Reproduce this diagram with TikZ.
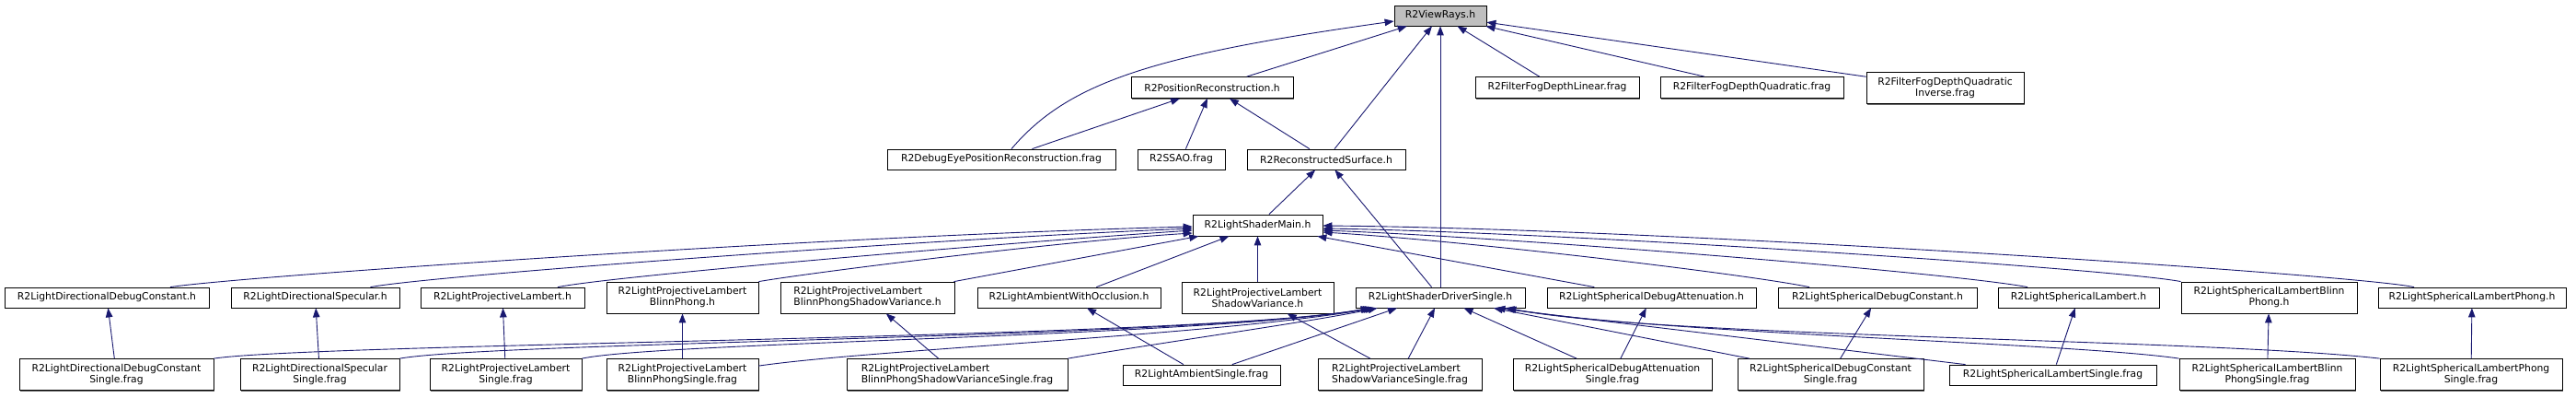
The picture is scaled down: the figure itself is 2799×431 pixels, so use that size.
\documentclass[tikz,border=0pt]{standalone}
\usepackage{fontspec}
\setmainfont{DejaVu Sans}
\usepackage{xcolor}
\usepackage{tikz}
\usetikzlibrary{arrows.meta,shadows}
\definecolor{edgeblue}{HTML}{191970}

\begin{document}
\begin{tikzpicture}[
  x=1pt,y=-1pt,
  filebox/.style={draw=black,line width=0.8pt,fill=white,inner sep=0pt,
                  minimum height=22pt,align=center,
                  font=\fontsize{10.8pt}{12pt}\selectfont,
                  drop shadow={shadow xshift=1.2pt,shadow yshift=-1.2pt,fill=black!60,opacity=1}},
  twoline/.style={filebox,minimum height=34pt},
  focus/.style={filebox,fill=black!25},
  incl/.style={-{Triangle[length=10pt,width=7.5pt]},draw=edgeblue,line width=0.9pt},
]
  \useasboundingbox (0,0) rectangle (2799,431);

  \node[focus,minimum width=100pt]                       (viewrays)   at (1565,17)    {R2ViewRays.h};
  \node[filebox,minimum width=176pt,minimum height=23pt] (posrec)     at (1317,95)    {R2PositionReconstruction.h};
  \node[filebox,minimum width=178pt,minimum height=23pt] (foglin)     at (1692,95)    {R2FilterFogDepthLinear.frag};
  \node[filebox,minimum width=199pt,minimum height=23pt] (fogquad)    at (1903.5,95)  {R2FilterFogDepthQuadratic.frag};
  \node[twoline,minimum width=171pt]                     (foginv)     at (2113.5,95.5) {R2FilterFogDepthQuadratic\\Inverse.frag};
  \node[filebox,minimum width=248pt]                     (debugeye)   at (1088,173)   {R2DebugEyePositionReconstruction.frag};
  \node[filebox,minimum width=95pt]                      (ssao)       at (1283.5,173) {R2SSAO.frag};
  \node[filebox,minimum width=172pt]                     (recsurf)    at (1441,173)   {R2ReconstructedSurface.h};
  \node[filebox,minimum width=141pt,minimum height=23pt] (shadermain) at (1366.5,244.5) {R2LightShaderMain.h};

  \node[filebox,minimum width=222pt] (dirdbg)      at (116,323)    {R2LightDirectionalDebugConstant.h};
  \node[filebox,minimum width=183pt] (dirspec)     at (342.5,323)  {R2LightDirectionalSpecular.h};
  \node[filebox,minimum width=178pt] (projlam)     at (546,323)    {R2LightProjectiveLambert.h};
  \node[twoline,minimum width=165pt] (projbp)      at (741.5,323)  {R2LightProjectiveLambert\\BlinnPhong.h};
  \node[twoline,minimum width=189pt,align=left] (projbpsv) at (942.5,323) {R2LightProjectiveLambert\\BlinnPhongShadowVariance.h};
  \node[filebox,minimum width=199pt] (ambocc)      at (1161.5,323) {R2LightAmbientWithOcclusion.h};
  \node[twoline,minimum width=165pt] (projsv)      at (1366.5,323) {R2LightProjectiveLambert\\ShadowVariance.h};
  \node[filebox,minimum width=184pt] (driver)      at (1565,323)   {R2LightShaderDriverSingle.h};
  \node[filebox,minimum width=227pt] (sphdbgatt)   at (1794.5,323) {R2LightSphericalDebugAttenuation.h};
  \node[filebox,minimum width=216pt] (sphdbgconst) at (2040,323)   {R2LightSphericalDebugConstant.h};
  \node[filebox,minimum width=175pt] (sphlam)      at (2258.5,323) {R2LightSphericalLambert.h};
  \node[twoline,minimum width=191pt] (sphbp)       at (2465.5,323) {R2LightSphericalLambertBlinn\\Phong.h};
  \node[filebox,minimum width=204pt] (sphphong)    at (2686,323)   {R2LightSphericalLambertPhong.h};

  \node[twoline,minimum width=211pt] (dirdbgS)      at (126.5,406.5)  {R2LightDirectionalDebugConstant\\Single.frag};
  \node[twoline,minimum width=173pt] (dirspecS)     at (347.5,406.5)  {R2LightDirectionalSpecular\\Single.frag};
  \node[twoline,minimum width=165pt] (projlamS)     at (549.5,406.5)  {R2LightProjectiveLambert\\Single.frag};
  \node[twoline,minimum width=165pt] (projbpS)      at (741.5,406.5)  {R2LightProjectiveLambert\\BlinnPhongSingle.frag};
  \node[twoline,minimum width=240pt,align=left] (projbpsvS) at (1040,406.5) {R2LightProjectiveLambert\\BlinnPhongShadowVarianceSingle.frag};
  \node[filebox,minimum width=171pt] (ambS)         at (1305.5,407)   {R2LightAmbientSingle.frag};
  \node[twoline,minimum width=178pt,align=left] (projsvS) at (1521,406.5) {R2LightProjectiveLambert\\ShadowVarianceSingle.frag};
  \node[twoline,minimum width=216pt] (sphdbgattS)   at (1752,406.5)   {R2LightSphericalDebugAttenuation\\Single.frag};
  \node[twoline,minimum width=202pt] (sphdbgconstS) at (1989,406.5)   {R2LightSphericalDebugConstant\\Single.frag};
  \node[filebox,minimum width=225pt] (sphlamS)      at (2230.5,407)   {R2LightSphericalLambertSingle.frag};
  \node[twoline,minimum width=191pt] (sphbpS)       at (2463.5,406.5) {R2LightSphericalLambertBlinn\\PhongSingle.frag};
  \node[twoline,minimum width=198pt] (sphphongS)    at (2685,406.5)   {R2LightSphericalLambertPhong\\Single.frag};

  \draw[incl] (posrec)  -- (viewrays);
  \draw[incl] ([xshift=11pt]debugeye.north) .. controls (1160,90) and (1250,60) .. ([yshift=-6pt]viewrays.west);
  \draw[incl] (debugeye) -- (posrec);
  \draw[incl] (ssao)     -- (posrec);
  \draw[incl] (recsurf)  -- (posrec);
  \draw[incl] (recsurf)  -- (viewrays);
  \draw[incl] (driver)   -- (viewrays);
  \draw[incl] (foglin)   -- (viewrays);
  \draw[incl] (fogquad)  -- (viewrays);
  \draw[incl] (foginv)   -- (viewrays);
  \draw[incl] (shadermain) -- (recsurf);
  \draw[incl] (driver)     -- (recsurf);

  \draw[incl] ([xshift=69pt]dirdbg.north) .. controls (260,300) and (900,256) .. ([yshift=-1.5pt]shadermain.west);
  \draw[incl] ([xshift=60pt]dirspec.north) .. controls (470,299) and (1000,260) .. ([yshift=-3.5pt]shadermain.west);
  \draw[incl] ([xshift=60pt]projlam.north) .. controls (670,299) and (1100,263) .. ([yshift=-5.5pt]shadermain.west);
  \draw[incl] (projbp.north east) .. controls (880,296) and (1150,262) .. ([yshift=-8.5pt]shadermain.west);
  \draw[incl] (projbpsv)  -- (shadermain);
  \draw[incl] (ambocc)    -- (shadermain);
  \draw[incl] (projsv)    -- (shadermain);
  \draw[incl] (sphdbgatt) -- (shadermain);
  \draw[incl] ([xshift=-74pt]sphdbgconst.north) .. controls (1900,298) and (1600,262) .. ([yshift=-7.5pt]shadermain.east);
  \draw[incl] ([xshift=-55.5pt]sphlam.north) .. controls (2120,296) and (1650,258) .. ([yshift=-5.5pt]shadermain.east);
  \draw[incl] (sphbp.north west) .. controls (2300,292) and (1700,252) .. ([yshift=-3.5pt]shadermain.east);
  \draw[incl] ([xshift=-63pt]sphphong.north) .. controls (2560,298) and (1800,248) .. ([yshift=-0.5pt]shadermain.east);

  \draw[incl] (dirdbgS.north east) .. controls (350,372) and (1300,368) .. ([xshift=16pt]driver.south west);
  \draw[incl] (dirspecS.north east) .. controls (540,371) and (1300,367) .. ([xshift=17pt]driver.south west);
  \draw[incl] (projlamS.north east) .. controls (720,371) and (1300,366) .. ([xshift=19pt]driver.south west);
  \draw[incl] ([yshift=-8pt]projbpS.north east) .. controls (950,379) and (1320,364) .. ([xshift=21pt]driver.south west);
  \draw[incl] (projbpsvS.north east) .. controls (1260,372) and (1420,350) .. ([xshift=24pt]driver.south west);
  \draw[incl] (ambS)         -- ([xshift=-47pt]driver.south);
  \draw[incl] (projsvS)      -- (driver);
  \draw[incl] (sphdbgattS)   -- (driver);
  \draw[incl] (sphdbgconstS) -- (driver);
  \draw[incl] (sphlamS)      -- ([xshift=-32pt]driver.south east);
  \draw[incl] (sphbpS.north west) .. controls (2250,372) and (1800,362) .. ([xshift=-22pt]driver.south east);
  \draw[incl] (sphphongS.north west) .. controls (2400,368) and (1800,366) .. ([xshift=-20pt]driver.south east);

  \draw[incl] (dirdbgS)      -- (dirdbg);
  \draw[incl] (dirspecS)     -- (dirspec);
  \draw[incl] (projlamS)     -- (projlam);
  \draw[incl] (projbpS)      -- (projbp);
  \draw[incl] (projbpsvS)    -- (projbpsv);
  \draw[incl] (ambS)         -- (ambocc);
  \draw[incl] (projsvS)      -- (projsv);
  \draw[incl] (sphdbgattS)   -- (sphdbgatt);
  \draw[incl] (sphdbgconstS) -- (sphdbgconst);
  \draw[incl] (sphlamS)      -- (sphlam);
  \draw[incl] (sphbpS)       -- (sphbp);
  \draw[incl] (sphphongS)    -- (sphphong);
\end{tikzpicture}
\end{document}
